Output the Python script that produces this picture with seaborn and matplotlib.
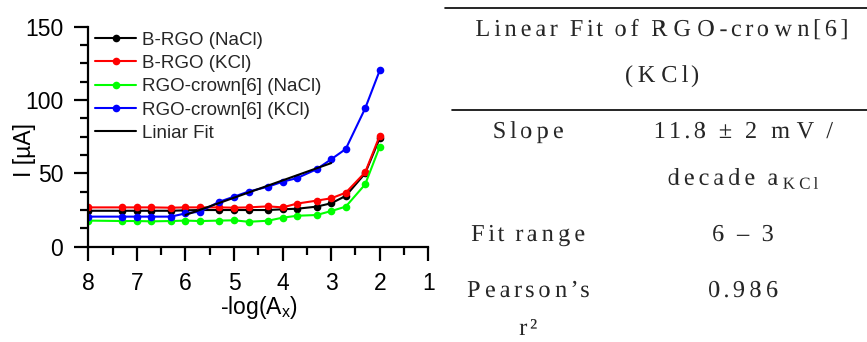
import numpy as np
import pandas as pd
import matplotlib
matplotlib.use("Agg")
import matplotlib.pyplot as plt
from matplotlib.ticker import MultipleLocator
from matplotlib.lines import Line2D
from matplotlib.path import Path
from matplotlib.patheffects import AbstractPathEffect
from matplotlib.transforms import IdentityTransform
import seaborn as sns

# -log of the ion activity
neg_log_a = [8, 7.3, 7, 6.7, 6.3, 6, 5.7, 5.3, 5, 4.7, 4.3, 4, 3.7, 3.3, 3, 2.7, 2.3, 2]

# current response, µA
b_rgo_nacl = [24.5, 24.5, 24.5, 24.5, 24.5, 24.8, 25.0, 25.0, 25.0, 25.0, 25.0, 25.5, 25.9, 27.3, 29.6, 34.6, 50.0, 74.0]
b_rgo_kcl = [26.8, 26.8, 26.8, 26.8, 26.6, 26.8, 26.8, 26.8, 26.6, 26.8, 27.5, 26.8, 29.4, 31.4, 33.0, 36.8, 50.7, 75.7]
crown_nacl = [17.8, 17.5, 17.5, 17.3, 17.5, 17.8, 17.5, 17.8, 18.0, 17.0, 17.7, 19.8, 21.1, 21.6, 24.3, 27.3, 42.5, 68.2]
crown_kcl = [20.5, 20.5, 20.5, 20.5, 20.5, 22.7, 23.9, 30.7, 34.1, 37.6, 40.9, 44.3, 46.8, 52.8, 59.6, 66.6, 94.3, 120.2]

series_labels = ["B-RGO (NaCl)", "B-RGO (KCl)", "RGO-crown[6] (NaCl)", "RGO-crown[6] (KCl)"]
series_colors = ["#000000", "#ff0000", "#00ff00", "#0000ff"]

# linear fit of RGO-crown[6] (KCl) over the 6 - 3 range
fit_range = [6, 3]
fit_slope = 11.8
fit_end_value = 57.0

# summary table
table_title = ["Linear Fit of RGO-crown[6]", "(KCl)"]
table_rows = [
    ("Slope", "11.8 ± 2 mV /"),
    ("", r"decade a$_\mathregular{KCl}$"),
    ("Fit range", "6 – 3"),
    ("Pearson’s", "0.986"),
    ("r²", ""),
]


class LetterSpacing(AbstractPathEffect):
    """Spread the glyph outlines of a text apart around its centre."""

    def __init__(self, factor):
        super().__init__()
        self.factor = factor

    def draw_path(self, renderer, gc, tpath, affine, rgbFace=None):
        path = affine.transform_path(tpath)
        verts = np.array(path.vertices, dtype=float)
        codes = path.codes
        if codes is None or len(verts) == 0:
            renderer.draw_path(gc, path, IdentityTransform(), rgbFace)
            return
        starts = list(np.where(codes == Path.MOVETO)[0]) + [len(verts)]
        xc = 0.5 * (verts[:, 0].min() + verts[:, 0].max())
        for s, e in zip(starts[:-1], starts[1:]):
            seg = verts[s:e, 0]
            cx = 0.5 * (seg.min() + seg.max())
            verts[s:e, 0] += self.factor * (cx - xc)
        renderer.draw_path(gc, Path(verts, codes), IdentityTransform(), rgbFace)


sns.set_style("ticks")
plt.rcParams["font.family"] = ["Liberation Sans", "DejaVu Sans"]
plt.rcParams["mathtext.fontset"] = "custom"
plt.rcParams["mathtext.rm"] = "Liberation Sans"

W, H = 867, 342
fig = plt.figure(figsize=(W / 100, H / 100), dpi=100)
ax = fig.add_axes([88.3 / W, 1 - 246.7 / H, 340.0 / W, 220.0 / H])

for values, label, color in zip([b_rgo_nacl, b_rgo_kcl, crown_nacl, crown_kcl], series_labels, series_colors):
    df = pd.DataFrame({"x": neg_log_a, "y": values})
    sns.lineplot(data=df, x="x", y="y", color=color, marker="o", markersize=5.5,
                 markeredgewidth=0, linewidth=1.5, label=label, ax=ax)

fit_x = np.array(fit_range, dtype=float)
fit_y = fit_end_value - fit_slope * (fit_x - fit_range[1])
sns.lineplot(x=fit_x, y=fit_y, color="black", linewidth=1.5, label="Liniar Fit", ax=ax)

ax.set_xlim(8, 1)
ax.set_ylim(0, 150)
ax.set_xticks(range(8, 0, -1))
ax.set_yticks([0, 50, 100, 150])
ax.xaxis.set_minor_locator(MultipleLocator(0.5))
ax.yaxis.set_minor_locator(MultipleLocator(12.5))
sns.despine(ax=ax)
for side in ("left", "bottom"):
    ax.spines[side].set_linewidth(1.6)
    ax.spines[side].set_color("black")
ax.tick_params(which="major", direction="out", length=10, width=1.6, labelsize=16.5,
               colors="black")
ax.tick_params(axis="y", which="major", pad=8)
ax.tick_params(axis="x", which="major", pad=8)
ax.tick_params(which="minor", direction="out", length=6, width=1.6, colors="black")

ax.set_xlabel(r"-log(A$_\mathregular{x}$)", fontsize=16.5, color="black")
ax.xaxis.set_label_coords(0.502, -0.215)
ax.set_ylabel("I [µA]", fontsize=16.5, color="black")
ax.yaxis.set_label_coords(-0.155, 0.44)

ax.legend(loc="upper left", bbox_to_anchor=(0.02, 0.978), frameon=False, fontsize=13.5,
          handlelength=2.2, handletextpad=0.3, labelspacing=0.33, borderaxespad=0,
          borderpad=0)

# table drawn in pixel coordinates of the figure
def px(x, y):
    return x / W, 1 - y / H

serif = ["Liberation Serif", "DejaVu Serif"]
spacing = [LetterSpacing(0.36)]
fig.add_artist(Line2D([445 / W, 1], [1 - 8.3 / H] * 2, color="black", linewidth=1.2))
fig.add_artist(Line2D([452 / W, 1], [1 - 110 / H] * 2, color="black", linewidth=1.2))

def cell(x, y, s):
    fig.text(*px(x, y), s, family=serif, fontsize=17.5, ha="center", va="baseline",
             path_effects=spacing)

cell(661, 36, table_title[0])
cell(662, 82, table_title[1])

row_y = [138, 185, 241, 297, 335]
for (left, right), y in zip(table_rows, row_y):
    if left:
        cell(528, y, left)
    if right:
        cell(743, y, right)

fig.savefig("out.png", dpi=100)
